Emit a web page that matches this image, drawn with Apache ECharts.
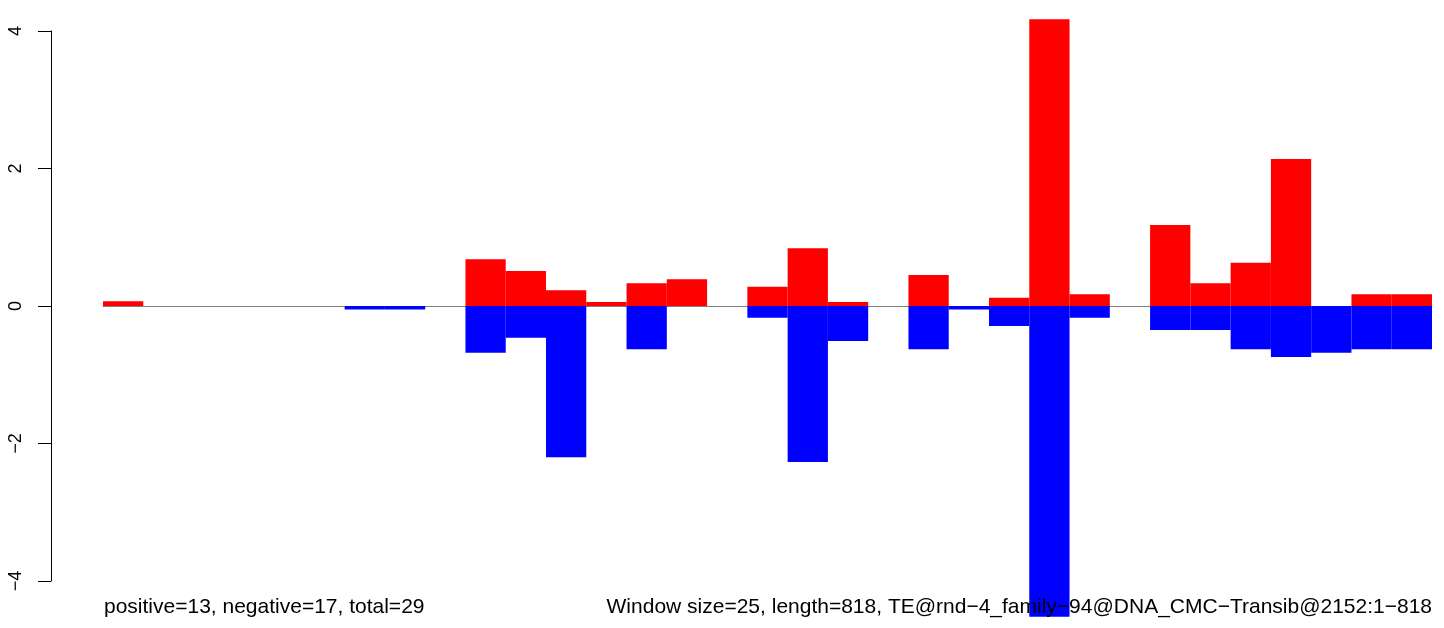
<!DOCTYPE html>
<html>
<head>
<meta charset="utf-8">
<script src="https://cdn.jsdelivr.net/npm/echarts@6/dist/echarts.min.js"></script>
<style>
html,body{margin:0;padding:0;background:#fff;}
#chart{width:1444px;height:628px;}
</style>
</head>
<body>
<div id="chart"></div>
<script>
// Window indices (33 windows of size 25 over length 818)
const windows = Array.from({length: 33}, (_, i) => String(i + 1));
// Positive-strand values per window (red)
const positiveValues = [0.07, 0, 0, 0, 0, 0, 0, 0, 0, 0.68, 0.51, 0.23, 0.06, 0.33, 0.39, 0, 0.28, 0.84, 0.06, 0, 0.45, 0, 0.12, 4.17, 0.17, 0, 1.18, 0.33, 0.63, 2.14, 0, 0.17, 0.17];
// Negative-strand values per window (blue)
const negativeValues = [0, 0, 0, 0, 0, 0, -0.05, -0.05, 0, -0.68, -0.46, -2.2, 0, -0.63, 0, 0, -0.17, -2.27, -0.51, 0, -0.63, -0.05, -0.29, -4.52, -0.17, 0, -0.35, -0.35, -0.63, -0.74, -0.68, -0.63, -0.63];
// Y tick values
const yTicks = [-4, -2, 0, 2, 4];
// Caption texts
const leftCaption = "positive=13, negative=17, total=29";
const rightCaption = "Window size=25, length=818, TE@rnd\u22124_family\u221294@DNA_CMC\u2212Transib@2152:1\u2212818";

const chart = echarts.init(document.getElementById('chart'), null, {renderer: 'canvas'});
const FONT = '"Liberation Sans", Arial, Helvetica, sans-serif';
chart.setOption({
  animation: false,
  backgroundColor: '#ffffff',
  title: [
    {text: leftCaption, left: 104, top: 597, padding: 0,
     textStyle: {fontFamily: FONT, fontSize: 21, fontWeight: 'normal', color: '#000'}},
    {text: rightCaption, right: 12, top: 597, padding: 0,
     textStyle: {fontFamily: FONT, fontSize: 21, fontWeight: 'normal', color: '#000'}}
  ],
  grid: {left: 103, right: 12, top: 31, height: 550, containLabel: false},
  xAxis: {
    type: 'category',
    data: windows,
    boundaryGap: true,
    axisLine: {show: true, onZero: true, lineStyle: {color: '#808080', width: 1}},
    axisTick: {show: false},
    axisLabel: {show: false},
    splitLine: {show: false}
  },
  yAxis: {
    type: 'value',
    min: yTicks[0],
    max: yTicks[yTicks.length - 1],
    interval: 2,
    offset: 52,
    axisLine: {show: true, lineStyle: {color: '#000', width: 1}},
    axisTick: {show: true, length: 13, lineStyle: {color: '#000', width: 1}},
    axisLabel: {
      show: true, rotate: 90, margin: 26, color: '#000',
      fontFamily: FONT, fontSize: 18,
      formatter: v => String(v).replace('-', '\u2212')
    },
    splitLine: {show: false}
  },
  series: [
    {
      name: 'positive', type: 'bar', data: positiveValues,
      barGap: '-100%', barCategoryGap: 0, clip: false,
      itemStyle: {color: '#ff0000'}
    },
    {
      name: 'negative', type: 'bar', data: negativeValues,
      barGap: '-100%', barCategoryGap: 0, clip: false,
      itemStyle: {color: '#0000ff'}
    }
  ]
});
</script>
</body>
</html>
